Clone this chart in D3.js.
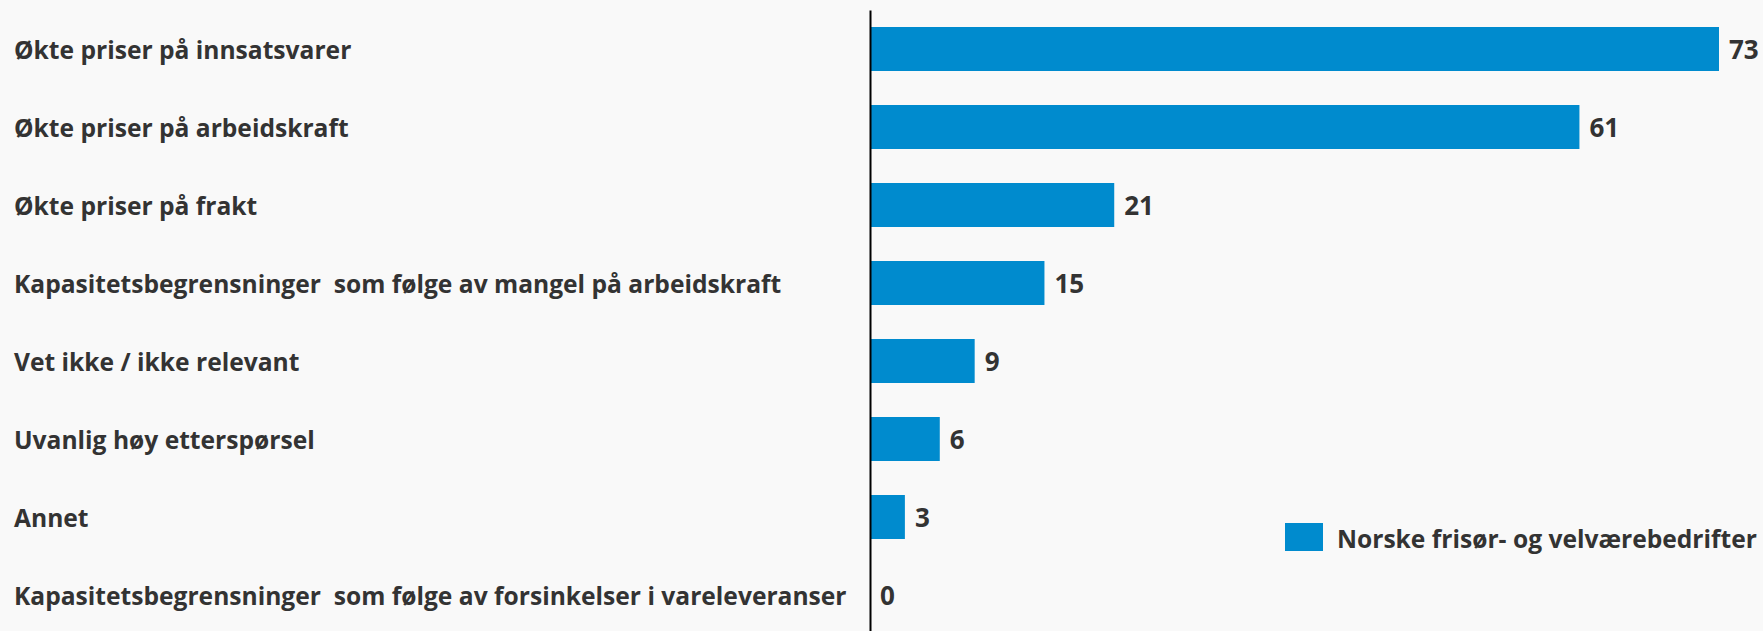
<script src="https://d3js.org/d3.v7.min.js"></script>
<style>
  body { margin: 0; background: #f9f9f9; }
  svg { display: block; font-family: "Open Sans", sans-serif; }
</style>
<svg id="chart" width="1763" height="631"></svg>
<script>
  const categories = [
    "Økte priser på innsatsvarer",
    "Økte priser på arbeidskraft",
    "Økte priser på frakt",
    "Kapasitetsbegrensninger  som følge av mangel på arbeidskraft",
    "Vet ikke / ikke relevant",
    "Uvanlig høy etterspørsel",
    "Annet",
    "Kapasitetsbegrensninger  som følge av forsinkelser i vareleveranser"
  ]
  const values = [73, 61, 21, 15, 9, 6, 3, 0]
  const seriesName = "Norske frisør- og velværebedrifter"

  const barColor = "#008bce"
  const textColor = "#333333"
  const svg = d3.select("#chart")
  const axisX = 870

  const y = d3.scaleBand().domain(categories).range([10, 634]).paddingInner(0.436).paddingOuter(0.218)
  const x = d3.scaleLinear().domain([0, 73]).range([axisX, 1719])

  // bars
  svg.selectAll("rect.bar")
    .data(values).enter()
    .append("rect")
    .attr("class", "bar")
    .attr("x", x(0))
    .attr("y", (d, i) => y(categories[i]))
    .attr("width", d => x(d) - x(0))
    .attr("height", y.bandwidth())
    .attr("fill", barColor)

  // value labels
  svg.selectAll("text.val")
    .data(values).enter()
    .append("text")
    .attr("class", "val")
    .attr("x", d => x(d) + 10)
    .attr("y", (d, i) => y(categories[i]) + y.bandwidth() / 2 + 10)
    .attr("fill", textColor)
    .style("font-size", "26px")
    .style("font-weight", "bold")
    .text(d => d)

  // category axis
  const g = svg.append("g").attr("transform", "translate(" + axisX + ",0)")
  g.call(d3.axisLeft(y).tickSize(0).tickPadding(0))
  g.select(".domain").attr("stroke", "#000").attr("stroke-width", 2)
  g.selectAll(".tick text")
    .attr("x", 14 - axisX)
    .attr("dy", "0.4em")
    .attr("text-anchor", "start")
    .attr("fill", textColor)
    .style("white-space", "pre")
    .style("font-family", "'Open Sans', sans-serif")
    .style("font-size", "24.6px")
    .style("font-weight", "bold")

  // legend
  const legend = svg.append("g").attr("transform", "translate(1285,523)")
  legend.append("rect").attr("width", 38).attr("height", 28).attr("fill", barColor)
  legend.append("text")
    .attr("x", 52)
    .attr("y", 25)
    .attr("fill", textColor)
    .style("font-size", "24.6px")
    .style("font-weight", "bold")
    .text(seriesName)
</script>
